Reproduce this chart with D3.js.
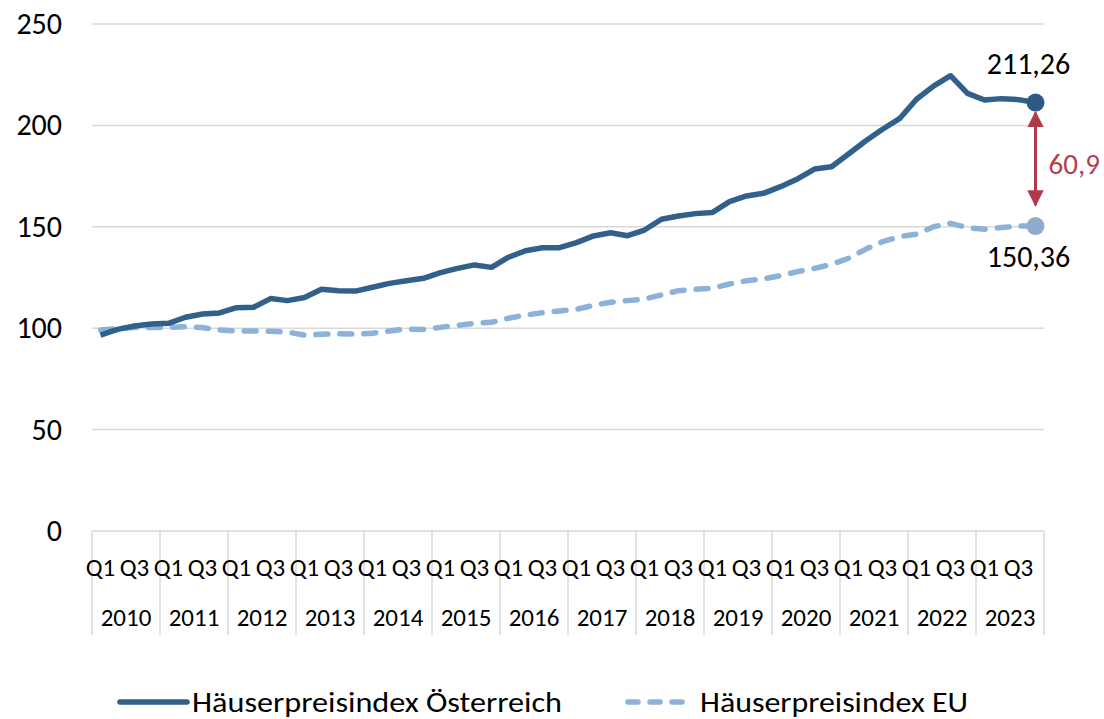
<!DOCTYPE html>
<html>
<head>
<meta charset="utf-8">
<script src="https://cdn.jsdelivr.net/npm/d3@7"></script>
<style>
  body { margin: 0; background: #fff; }
  svg { font-family: Carlito, Calibri, "Liberation Sans", Arial, sans-serif; }
  .grid line { stroke: #d9d9d9; stroke-width: 1.5; }
</style>
</head>
<body>
<div class="chart"></div>
<script>
const years = [2010, 2011, 2012, 2013, 2014, 2015, 2016, 2017, 2018, 2019, 2020, 2021, 2022, 2023];
const quarters = ["Q1", "Q2", "Q3", "Q4"];
const shownQuarters = ["Q1", "Q3"];
const yTicks = [0, 50, 100, 150, 200, 250];

const austria = [
  96.6, 99.4, 101.1, 102.1, 102.4, 105.4, 107.0, 107.5, 110.1, 110.3, 114.6, 113.6, 115.1, 119.2, 118.5, 118.3,
  120.2, 122.1, 123.4, 124.6, 127.4, 129.5, 131.2, 130.0, 135.0, 138.2, 139.7, 139.7, 142.2, 145.5, 147.1, 145.6,
  148.4, 153.7, 155.3, 156.5, 157.1, 162.4, 165.2, 166.5, 169.8, 173.6, 178.5, 179.6, 185.9, 192.3, 198.1, 203.3,
  212.9, 219.4, 224.5, 215.8, 212.5, 213.2, 212.7, 211.26
];
const eu = [
  99.1, 99.9, 100.4, 100.3, 100.3, 100.8, 100.3, 99.1, 98.6, 98.6, 98.5, 98.1, 96.6, 97.0, 97.3, 97.1,
  97.5, 98.6, 99.6, 99.4, 100.4, 101.4, 102.4, 102.9, 104.9, 106.5, 107.6, 108.5, 109.3, 111.3, 112.8, 113.6,
  114.4, 116.4, 118.5, 119.2, 119.7, 121.8, 123.4, 124.3, 125.9, 127.9, 129.5, 131.5, 134.5, 138.9, 142.7, 145.1,
  146.4, 150.0, 151.7, 149.6, 148.8, 149.6, 150.4, 150.36
];
const seriesNames = ["Häuserpreisindex Österreich", "Häuserpreisindex EU"];

const width = 1104, height = 719;
const margin = { top: 24, right: 60, bottom: 188, left: 92 };
const darkBlue = "#31608a", lightBlue = "#8db2d9", dotLight = "#91aacc", red = "#b03a48";

const categories = [];
years.forEach(yr => quarters.forEach(q => categories.push(yr + " " + q)));

const svg = d3.select(".chart").append("svg")
  .attr("width", width)
  .attr("height", height);

const x = d3.scaleBand()
  .domain(categories)
  .range([margin.left, width - margin.right]);

const y = d3.scaleLinear()
  .domain([0, 250])
  .range([height - margin.bottom, margin.top]);

const cx = i => x(categories[i]) + x.bandwidth() / 2;

// gridlines
svg.append("g")
  .attr("class", "grid")
  .selectAll("line")
  .data(yTicks)
  .enter().append("line")
  .attr("x1", margin.left)
  .attr("x2", width - margin.right)
  .attr("y1", d => y(d))
  .attr("y2", d => y(d));

// y tick labels
svg.append("g")
  .selectAll("text")
  .data(yTicks)
  .enter().append("text")
  .attr("x", 62)
  .attr("y", d => y(d))
  .attr("dy", "0.33em")
  .attr("text-anchor", "end")
  .style("font-size", "30px")
  .style("fill", "#000")
  .text(d => d);

// year dividers
const yearEdges = years.map(yr => x(yr + " Q1")).concat([width - margin.right]);
svg.append("g")
  .attr("class", "grid")
  .selectAll("line")
  .data(yearEdges)
  .enter().append("line")
  .attr("x1", d => d)
  .attr("x2", d => d)
  .attr("y1", y(0))
  .attr("y2", y(0) + 104);

// quarter labels
svg.append("g")
  .selectAll("text")
  .data(categories.filter(c => shownQuarters.includes(c.split(" ")[1])))
  .enter().append("text")
  .attr("x", d => x(d) + x.bandwidth() / 2)
  .attr("y", y(0) + 45)
  .attr("text-anchor", "middle")
  .style("font-size", "25px")
  .text(d => d.split(" ")[1]);

// year labels
svg.append("g")
  .selectAll("text")
  .data(years)
  .enter().append("text")
  .attr("x", d => x(d + " Q2") + x.bandwidth())
  .attr("y", y(0) + 95)
  .attr("text-anchor", "middle")
  .style("font-size", "25px")
  .text(d => d);

// lines
const line = d3.line()
  .x((d, i) => cx(i))
  .y(d => y(d));

svg.append("path")
  .datum(eu)
  .attr("fill", "none")
  .attr("stroke", lightBlue)
  .attr("stroke-width", 5.5)
  .attr("stroke-linecap", "round")
  .attr("stroke-linejoin", "round")
  .attr("stroke-dasharray", "12,12")
  .attr("d", line);

svg.append("path")
  .datum(austria)
  .attr("fill", "none")
  .attr("stroke", darkBlue)
  .attr("stroke-width", 5.5)
  .attr("stroke-linejoin", "round")
  .attr("d", line);

// end markers + labels
const last = categories.length - 1;
const lastAt = austria[last], lastEu = eu[last];

svg.append("circle")
  .attr("cx", cx(last)).attr("cy", y(lastAt)).attr("r", 9)
  .attr("fill", "#2e5a85");
svg.append("circle")
  .attr("cx", cx(last)).attr("cy", y(lastEu)).attr("r", 9)
  .attr("fill", dotLight);

svg.append("text")
  .attr("x", cx(last) - 7).attr("y", y(lastAt) - 29)
  .attr("text-anchor", "middle")
  .style("font-size", "30px")
  .text(d3.format(".2f")(lastAt).replace(".", ","));

svg.append("text")
  .attr("x", cx(last) - 7).attr("y", y(lastEu) + 41)
  .attr("text-anchor", "middle")
  .style("font-size", "30px")
  .text(d3.format(".2f")(lastEu).replace(".", ","));

// difference arrow
const defs = svg.append("defs");
defs.append("marker")
  .attr("id", "arrow")
  .attr("viewBox", "0 0 10 10")
  .attr("refX", 9).attr("refY", 5)
  .attr("markerWidth", 5.5).attr("markerHeight", 5.5)
  .attr("markerUnits", "strokeWidth")
  .attr("orient", "auto-start-reverse")
  .append("path")
  .attr("d", "M0,0 L10,5 L0,10 z")
  .attr("fill", red);

svg.append("line")
  .attr("x1", cx(last)).attr("x2", cx(last))
  .attr("y1", y(lastAt) + 10).attr("y2", y(lastEu) - 21)
  .attr("stroke", red)
  .attr("stroke-width", 3)
  .attr("marker-start", "url(#arrow)")
  .attr("marker-end", "url(#arrow)");

svg.append("text")
  .attr("x", cx(last) + 13)
  .attr("y", (y(lastAt) + y(lastEu)) / 2 + 10)
  .style("font-size", "29px")
  .style("fill", "#b5404d")
  .text(d3.format(".1f")(lastAt - lastEu).replace(".", ","));

// legend
const legend = svg.append("g").attr("transform", "translate(0, 702)");
legend.append("line")
  .attr("x1", 120).attr("x2", 187).attr("y1", 0).attr("y2", 0)
  .attr("stroke", darkBlue).attr("stroke-width", 5.5).attr("stroke-linecap", "round");
legend.append("text")
  .attr("x", 192).attr("y", 10)
  .style("font-size", "28px")
  .attr("textLength", 370)
  .attr("lengthAdjust", "spacingAndGlyphs")
  .text(seriesNames[0]);
legend.append("line")
  .attr("x1", 628).attr("x2", 690).attr("y1", 0).attr("y2", 0)
  .attr("stroke", lightBlue).attr("stroke-width", 5.5).attr("stroke-linecap", "round")
  .attr("stroke-dasharray", "10,12");
legend.append("text")
  .attr("x", 700).attr("y", 10)
  .style("font-size", "28px")
  .attr("textLength", 268)
  .attr("lengthAdjust", "spacingAndGlyphs")
  .text(seriesNames[1]);
</script>
</body>
</html>
